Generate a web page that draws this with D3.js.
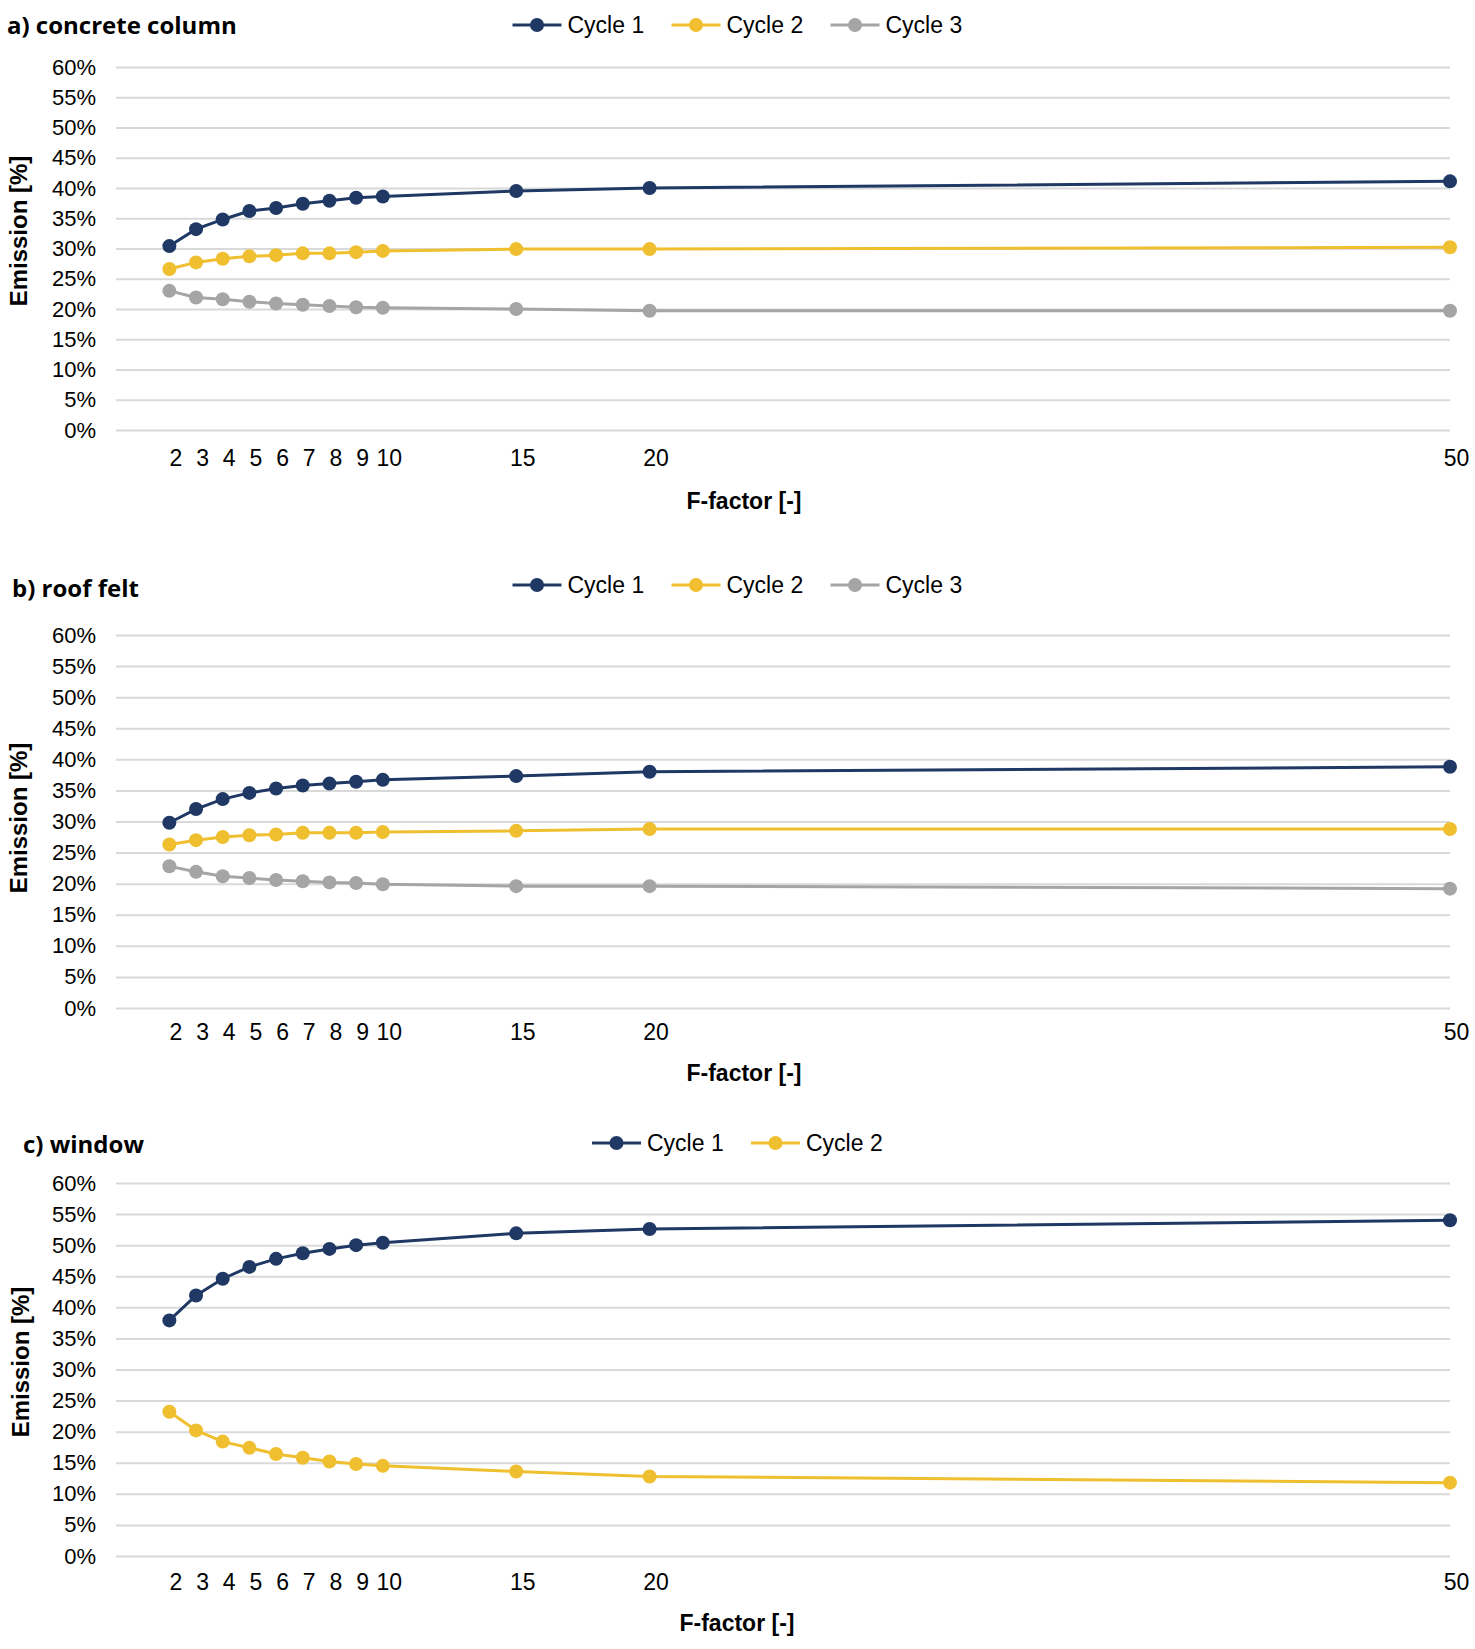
<!DOCTYPE html>
<html>
<head>
<meta charset="utf-8">
<script src="https://cdn.jsdelivr.net/npm/d3@7"></script>
<style>
	body { margin: 0; background: #fff; }
	svg text { font-family: "Liberation Sans", Arial, sans-serif; fill: #000; }
	.grid line { stroke: #d9d9d9; stroke-width: 2; }
	.title { font-family: "Open Sans", sans-serif !important; font-weight: 700; font-size: 24px; }
</style>
</head>
<body>
<svg id="chart" width="1475" height="1649"></svg>
<script>
	// F-factor values (x) and the percent gridlines
	var fFactors = [2, 3, 4, 5, 6, 7, 8, 9, 10, 15, 20, 50];
	var pctTicks = [0, 0.05, 0.10, 0.15, 0.20, 0.25, 0.30, 0.35, 0.40, 0.45, 0.50, 0.55, 0.60];
	var cycleNames = ['Cycle 1', 'Cycle 2', 'Cycle 3'];

	// a) concrete column
	var columnCycle1 = [0.304, 0.332, 0.348, 0.362, 0.367, 0.374, 0.379, 0.384, 0.386, 0.395, 0.400, 0.411];
	var columnCycle2 = [0.266, 0.277, 0.283, 0.287, 0.289, 0.292, 0.292, 0.294, 0.296, 0.299, 0.299, 0.302];
	var columnCycle3 = [0.230, 0.219, 0.216, 0.212, 0.209, 0.207, 0.205, 0.203, 0.202, 0.200, 0.197, 0.197];

	// b) roof felt
	var feltCycle1 = [0.298, 0.320, 0.336, 0.346, 0.353, 0.358, 0.361, 0.364, 0.367, 0.373, 0.380, 0.388];
	var feltCycle2 = [0.263, 0.270, 0.275, 0.278, 0.279, 0.282, 0.282, 0.282, 0.283, 0.285, 0.288, 0.288];
	var feltCycle3 = [0.228, 0.219, 0.212, 0.209, 0.206, 0.204, 0.202, 0.201, 0.199, 0.196, 0.196, 0.192];

	// c) window
	var windowCycle1 = [0.379, 0.419, 0.446, 0.465, 0.478, 0.487, 0.494, 0.500, 0.504, 0.519, 0.526, 0.540];
	var windowCycle2 = [0.232, 0.202, 0.184, 0.174, 0.164, 0.158, 0.152, 0.148, 0.145, 0.136, 0.128, 0.118];

	var colors = ['#1f3864', '#f0bf2f', '#a5a5a5'];

	var panels = [
		{title: 'a) concrete column', series: [columnCycle1, columnCycle2, columnCycle3],
			top: 67, bottom: 430, tickPad: 20, titleX: 7, titleY: 34, legendY: 25,
			yLabelX: 19, yLabelY: 231, xLabelX: 744, xLabelY: 509},
		{title: 'b) roof felt', series: [feltCycle1, feltCycle2, feltCycle3],
			top: 635, bottom: 1008, tickPad: 16, titleX: 12, titleY: 597, legendY: 585,
			yLabelX: 19, yLabelY: 818, xLabelX: 744, xLabelY: 1081},
		{title: 'c) window', series: [windowCycle1, windowCycle2],
			top: 1183, bottom: 1556, tickPad: 18, titleX: 23, titleY: 1153, legendY: 1143,
			yLabelX: 21, yLabelY: 1362, xLabelX: 737, xLabelY: 1631}
	];

	var svg = d3.select('#chart');
	var x = d3.scaleLinear().domain([0, 50]).range([116, 1450]);

	panels.forEach(function (p)
	{
		var g = svg.append('g');
		var y = d3.scaleLinear().domain([0, 0.6]).range([p.bottom, p.top]);

		// gridlines + percent labels
		var yAxis = d3.axisLeft(y).tickValues(pctTicks).tickFormat(d3.format('.0%'))
			.tickSize(-(x.range()[1] - x.range()[0])).tickPadding(20);
		g.append('g').attr('class', 'grid').attr('transform', 'translate(' + x.range()[0] + ',0)')
			.call(yAxis)
			.call(function (a) { a.select('.domain').remove(); })
			.selectAll('text').attr('font-size', 22).attr('font-family', null);

		// F-factor labels sit a bit to the right of the points
		var xAxis = d3.axisBottom(x).tickValues(fFactors).tickSize(0).tickPadding(p.tickPad);
		g.append('g').attr('transform', 'translate(6,' + p.bottom + ')')
			.call(xAxis)
			.call(function (a) { a.select('.domain').remove(); })
			.selectAll('text').attr('font-size', 23).attr('font-family', null);

		var line = d3.line()
			.x(function (d, i) { return x(fFactors[i]); })
			.y(function (d) { return y(d); });

		p.series.forEach(function (vals, s)
		{
			g.append('path').datum(vals)
				.attr('d', line).attr('fill', 'none')
				.attr('stroke', colors[s]).attr('stroke-width', 3);
			g.selectAll('circle.s' + s).data(vals).enter().append('circle')
				.attr('class', 's' + s)
				.attr('cx', function (d, i) { return x(fFactors[i]); })
				.attr('cy', function (d) { return y(d); })
				.attr('r', 7).attr('fill', colors[s]);
		});

		// legend, centred around x=735
		var itemStep = 159, lineW = 49, n = p.series.length;
		var legendW = (n - 1) * itemStep + lineW + 6 + 76;
		var lx = 737 - legendW / 2;
		p.series.forEach(function (vals, s)
		{
			var item = g.append('g').attr('transform', 'translate(' + (lx + s * itemStep) + ',' + p.legendY + ')');
			item.append('line').attr('x1', 0).attr('x2', lineW)
				.attr('stroke', colors[s]).attr('stroke-width', 3);
			item.append('circle').attr('cx', lineW / 2).attr('r', 7).attr('fill', colors[s]);
			item.append('text').attr('x', lineW + 6).attr('dy', '0.35em')
				.attr('font-size', 23).text(cycleNames[s]);
		});

		g.append('text').attr('class', 'title').attr('x', p.titleX).attr('y', p.titleY).text(p.title);

		g.append('text')
			.attr('transform', 'translate(' + p.yLabelX + ',' + p.yLabelY + ') rotate(-90)')
			.attr('text-anchor', 'middle').attr('dy', '0.35em')
			.attr('font-size', 24).attr('font-weight', 'bold')
			.text('Emission [%]');

		g.append('text').attr('x', p.xLabelX).attr('y', p.xLabelY)
			.attr('text-anchor', 'middle').attr('font-size', 23).attr('font-weight', 'bold')
			.text('F-factor [-]');
	});
</script>
</body>
</html>
